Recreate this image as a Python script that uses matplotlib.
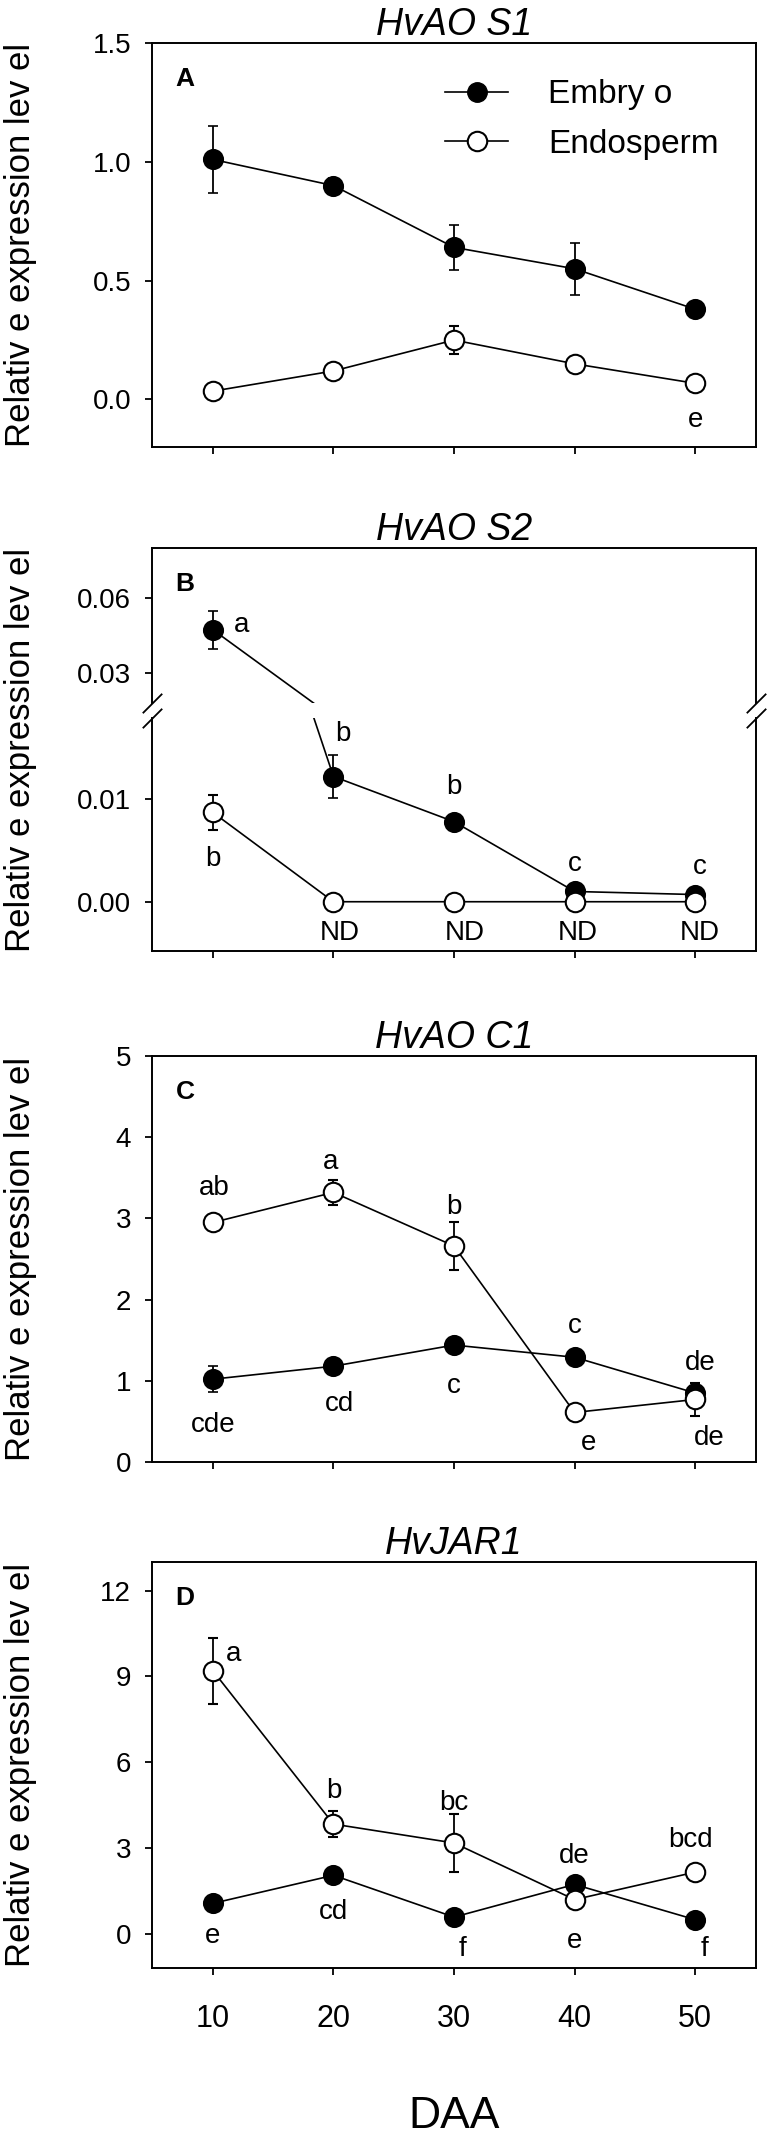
import matplotlib
matplotlib.use("Agg")
import matplotlib.pyplot as plt
from matplotlib.lines import Line2D

plt.rcParams['font.family'] = ['Liberation Sans', 'DejaVu Sans']

# sampling days (days after anthesis)
daa = [10, 20, 30, 40, 50]

# HvAOS1
aos1_emb = [1.01, 0.90, 0.64, 0.55, 0.38]
aos1_emb_err = [0.14, 0.03, 0.095, 0.11, 0.015]
aos1_end = [0.035, 0.12, 0.25, 0.15, 0.068]
aos1_end_err = [0.01, 0.015, 0.06, 0.02, 0.01]

# HvAOS2
aos2_emb = [0.0473, 0.0122, 0.0078, 0.0010, 0.0007]
aos2_emb_err = [0.0076, 0.0021, 0.0005, 0.0003, 0.0002]
aos2_end = [0.0087, 0.0, 0.0, 0.0, 0.0]
aos2_end_err = [0.0017, 0.0, 0.0, 0.0, 0.0]

# HvAOC1
aoc1_emb = [1.02, 1.18, 1.44, 1.29, 0.85]
aoc1_emb_err = [0.16, 0.05, 0.08, 0.06, 0.05]
aoc1_end = [2.95, 3.32, 2.66, 0.61, 0.77]
aoc1_end_err = [0.05, 0.15, 0.30, 0.08, 0.20]

# HvJAR1
jar1_emb = [1.07, 2.05, 0.59, 1.73, 0.50]
jar1_emb_err = [0.10, 0.15, 0.10, 0.15, 0.05]
jar1_end = [9.2, 3.84, 3.18, 1.2, 2.16]
jar1_end_err = [1.15, 0.45, 1.0, 0.3, 0.1]

# significance letters (x, y, text)
letters_a = [(50, -0.085, 'e')]
letters_b_up = [(12.4, 0.049, 'a')]
letters_b_low = [(20.8, 0.0163, 'b'), (30, 0.0112, 'b'), (40, 0.0037, 'c'),
                 (50.4, 0.0034, 'c'), (10, 0.0042, 'b'),
                 (20.5, -0.0030, 'ND'), (30.9, -0.0030, 'ND'),
                 (40.3, -0.0030, 'ND'), (50.4, -0.0030, 'ND')]
letters_c = [(10.1, 3.37, 'ab'), (19.8, 3.70, 'a'), (30, 3.14, 'b'), (40, 1.67, 'c'),
             (50.4, 1.22, 'de'), (10, 0.45, 'cde'), (20.5, 0.72, 'cd'), (30, 0.94, 'c'),
             (41.2, 0.24, 'e'), (51.2, 0.30, 'de')]
letters_d = [(11.7, 9.8, 'a'), (20, 5.0, 'b'), (30, 4.57, 'bc'), (40, 2.74, 'de'),
             (49.6, 3.27, 'bcd'), (10, -0.06, 'e'), (20, 0.78, 'cd'), (30.7, -0.54, 'f'),
             (40, -0.23, 'e'), (50.8, -0.54, 'f')]

W, H = 768, 2134
fig = plt.figure(figsize=(W / 100, H / 100), dpi=100)


def box(l, t, r, b):
    return [l / W, 1 - b / H, (r - l) / W, (b - t) / H]


def style(ax, show_xlabels=False):
    ax.set_xlim(4.95, 55.05)
    ax.set_xticks(daa)
    for s in ax.spines.values():
        s.set_linewidth(1.4)
    ax.tick_params(axis='y', direction='out', length=5, width=1.3,
                   labelsize=20, pad=10)
    ax.tick_params(axis='x', direction='out', length=5, width=1.3,
                   labelsize=22, pad=21, labelbottom=show_xlabels)


def draw(ax, emb, emb_err, end, end_err):
    ax.errorbar(daa, emb, yerr=emb_err, color='black', lw=1.2, marker='o',
                ms=14, mfc='black', mec='black', mew=1.2, capsize=3.5,
                elinewidth=1.3, capthick=1.3)
    ax.errorbar(daa, end, yerr=end_err, color='black', lw=1.2, marker='o',
                ms=14, mfc='white', mec='black', mew=1.5, capsize=3.5,
                elinewidth=1.3, capthick=1.3)


def letters(ax, items):
    for x, y, t in items:
        ax.text(x, y, t, fontsize=20, ha='center', va='center')


def panel_letter(ax, t, dy=-17):
    ax.annotate(t, xy=(0, 1), xycoords='axes fraction', xytext=(17, dy),
                textcoords='offset points', fontsize=19, fontweight='bold',
                ha='left', va='top')


def title(ax, t):
    ax.set_title(t, fontsize=27, style='italic', pad=4)


# Panel A
axA = fig.add_axes(box(152, 43, 756, 447))
draw(axA, aos1_emb, aos1_emb_err, aos1_end, aos1_end_err)
axA.set_ylim(-0.2, 1.5)
axA.set_yticks([0.0, 0.5, 1.0, 1.5])
axA.set_yticklabels(['0.0', '0.5', '1.0', '1.5'])
style(axA)
letters(axA, letters_a)
panel_letter(axA, 'A')
title(axA, 'HvAO S1')
handles = [Line2D([], [], color='black', lw=1.2, marker='o', ms=14, mfc='black', mec='black'),
           Line2D([], [], color='black', lw=1.2, marker='o', ms=14, mfc='white', mec='black', mew=1.5)]
axA.legend(handles, ['Embry o', 'Endosperm'], loc='upper left',
           bbox_to_anchor=(0.485, 0.91), frameon=False, fontsize=24,
           handlelength=1.9, handletextpad=1.2, labelspacing=0.55,
           borderpad=0, borderaxespad=0)

# Panel B (broken axis)
axBu = fig.add_axes(box(152, 548, 756, 703))
axBl = fig.add_axes(box(152, 718, 756, 951))
for ax in (axBu, axBl):
    draw(ax, aos2_emb, aos2_emb_err, aos2_end, aos2_end_err)
axBu.set_ylim(0.018, 0.08)
axBu.set_yticks([0.03, 0.06])
axBu.set_yticklabels(['0.03', '0.06'])
axBl.set_ylim(-0.0048, 0.0179)
axBl.set_yticks([0.0, 0.01])
axBl.set_yticklabels(['0.00', '0.01'])
style(axBu)
style(axBl)
axBu.spines['bottom'].set_visible(False)
axBu.tick_params(axis='x', bottom=False)
axBl.spines['top'].set_visible(False)
letters(axBu, letters_b_up)
letters(axBl, letters_b_low)
panel_letter(axBu, 'B')
title(axBu, 'HvAO S2')
kw = dict(marker=[(-1, -1), (1, 1)], markersize=14, linestyle='none',
          color='black', mec='black', mew=1.3, clip_on=False)
axBu.plot([0, 1], [0, 0], transform=axBu.transAxes, **kw)
axBl.plot([0, 1], [1, 1], transform=axBl.transAxes, **kw)

# Panel C
axC = fig.add_axes(box(152, 1056, 756, 1462))
draw(axC, aoc1_emb, aoc1_emb_err, aoc1_end, aoc1_end_err)
axC.set_ylim(0, 5)
axC.set_yticks([0, 1, 2, 3, 4, 5])
style(axC)
letters(axC, letters_c)
panel_letter(axC, 'C')
title(axC, 'HvAO C1')

# Panel D
axD = fig.add_axes(box(152, 1562, 756, 1968))
draw(axD, jar1_emb, jar1_emb_err, jar1_end, jar1_end_err)
axD.set_ylim(-1.19, 13.0)
axD.set_yticks([0, 3, 6, 9, 12])
style(axD, show_xlabels=True)
letters(axD, letters_d)
panel_letter(axD, 'D')
title(axD, 'HvJAR1')

# y labels, one per panel
ylab = 'Relativ e expression lev el'
for yc in [(43 + 447) / 2, (548 + 951) / 2, (1056 + 1462) / 2, (1562 + 1968) / 2]:
    fig.text(21 / W, 1 - yc / H, ylab, rotation=90, fontsize=25,
             ha='center', va='center')

fig.text(454 / W, 1 - 2116 / H, 'DAA', fontsize=32, ha='center', va='center')

fig.savefig('out.png', dpi=100)
